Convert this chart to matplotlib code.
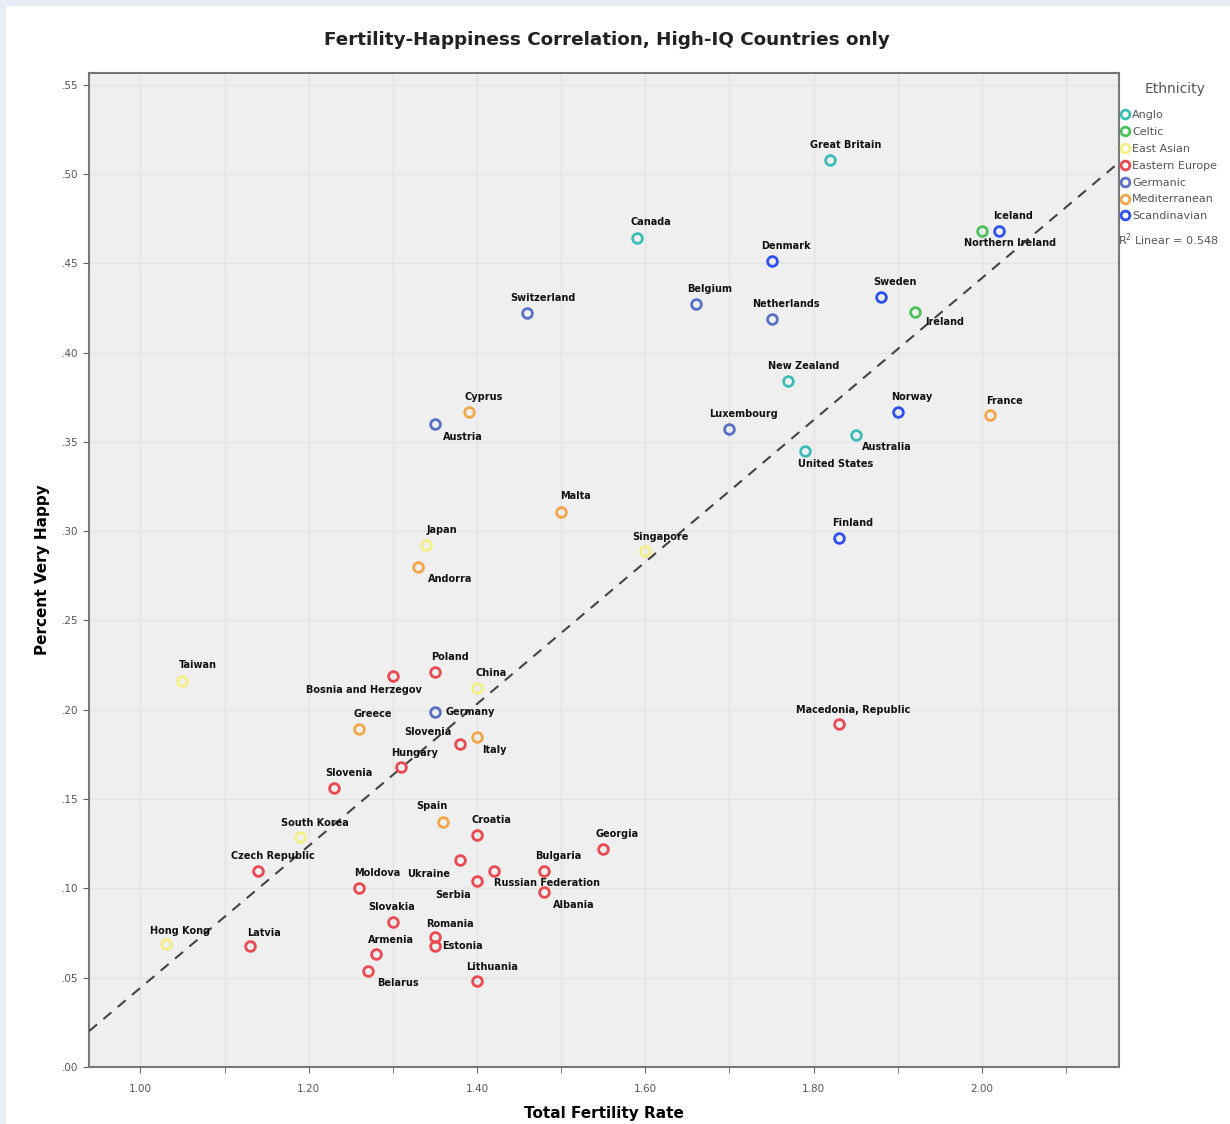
import numpy as np
import matplotlib
matplotlib.use('Agg')
import matplotlib.pyplot as plt
from matplotlib.patches import Rectangle
from matplotlib.ticker import MultipleLocator, FuncFormatter

# data
countries = ['Great Britain', 'Canada', 'New Zealand', 'Australia', 'United States',
             'Northern Ireland', 'Ireland',
             'Taiwan', 'China', 'Japan', 'Singapore', 'South Korea', 'Hong Kong',
             'Bosnia and Herzegov', 'Poland', 'Slovenia', 'Hungary', 'Slovenia', 'Croatia',
             'Georgia', 'Ukraine', 'Serbia', 'Bulgaria', 'Russian Federation', 'Albania',
             'Czech Republic', 'Moldova', 'Slovakia', 'Romania', 'Estonia', 'Armenia',
             'Belarus', 'Lithuania', 'Latvia', 'Macedonia, Republic',
             'Cyprus', 'Malta', 'Andorra', 'Greece', 'Italy', 'Spain', 'France',
             'Switzerland', 'Belgium', 'Netherlands', 'Austria', 'Luxembourg', 'Germany',
             'Denmark', 'Sweden', 'Iceland', 'Norway', 'Finland']
tfr = [1.82, 1.59, 1.77, 1.85, 1.79,
       2.00, 1.92,
       1.05, 1.40, 1.34, 1.60, 1.19, 1.03,
       1.30, 1.35, 1.38, 1.31, 1.23, 1.40,
       1.55, 1.38, 1.42, 1.48, 1.40, 1.48,
       1.14, 1.26, 1.30, 1.35, 1.35, 1.28,
       1.27, 1.40, 1.13, 1.83,
       1.39, 1.50, 1.33, 1.26, 1.40, 1.36, 2.01,
       1.46, 1.66, 1.75, 1.35, 1.70, 1.35,
       1.75, 1.88, 2.02, 1.90, 1.83]
very_happy = [0.508, 0.464, 0.384, 0.354, 0.345,
              0.468, 0.423,
              0.216, 0.212, 0.292, 0.289, 0.129, 0.069,
              0.219, 0.221, 0.181, 0.168, 0.156, 0.130,
              0.122, 0.116, 0.110, 0.110, 0.104, 0.098,
              0.110, 0.100, 0.081, 0.073, 0.068, 0.063,
              0.054, 0.048, 0.068, 0.192,
              0.367, 0.311, 0.280, 0.189, 0.185, 0.137, 0.365,
              0.422, 0.427, 0.419, 0.360, 0.357, 0.199,
              0.451, 0.431, 0.468, 0.367, 0.296]
ethnicity = ['Anglo'] * 5 + ['Celtic'] * 2 + ['East Asian'] * 6 + ['Eastern Europe'] * 22 + \
            ['Mediterranean'] * 7 + ['Germanic'] * 6 + ['Scandinavian'] * 5
groups = ['Anglo', 'Celtic', 'East Asian', 'Eastern Europe', 'Germanic', 'Mediterranean', 'Scandinavian']

colors = {'Anglo': '#3dbdb8', 'Celtic': '#4cc25a', 'East Asian': '#f3ef84',
          'Eastern Europe': '#ea4a52', 'Germanic': '#5a70c4', 'Mediterranean': '#f2a64a',
          'Scandinavian': '#2d50f2'}

# label offsets in pixels (right, up) from each point
offsets = [(15, 15), (14, 16), (15, 15), (31, -12), (30, -13),
           (28, -12), (30, -10),
           (15, 16), (14, 15), (15, 15), (15, 14), (15, 14), (14, 13),
           (-29, -14), (15, 15), (-32, 12), (13, 14), (15, 15), (14, 15),
           (14, 15), (-32, -14), (-41, -24), (14, 15), (70, -2), (29, -13),
           (15, 15), (18, 15), (-1, 15), (15, 13), (28, 0), (15, 14),
           (30, -12), (15, 14), (14, 13), (14, 14),
           (15, 15), (14, 16), (32, -12), (14, 15), (17, -13), (-11, 16), (14, 14),
           (15, 15), (14, 15), (14, 15), (28, -13), (14, 15), (35, 0),
           (14, 15), (14, 15), (14, 15), (14, 15), (14, 15)]

fig = plt.figure(figsize=(12.3, 11.24), dpi=100, facecolor='#e6edf5')
fig.patches.append(Rectangle((0.005, 0), 0.995, 0.995, transform=fig.transFigure,
                             facecolor='white', edgecolor='none', zorder=-5))
ax = fig.add_axes([0.0724, 0.0507, 0.8374, 0.8843])
ax.set_zorder(2)
ax.set_facecolor('#efefef')

tfr_arr = np.array(tfr)
vh_arr = np.array(very_happy)
eth_arr = np.array(ethnicity)
for g in groups:
    m = eth_arr == g
    ax.plot(tfr_arr[m], vh_arr[m], 'o', ms=7, mfc='none', mec=colors[g], mew=2, label=g, zorder=4)

for name, x, y, (dx, dy) in zip(countries, tfr, very_happy, offsets):
    ax.annotate(name, (x, y), xytext=(dx, dy), textcoords='offset pixels',
                ha='center', va='center', fontsize=7, fontweight='bold', color='#111111', zorder=5)

# linear fit line
slope, intercept = np.polyfit(tfr_arr, vh_arr, 1)
xl = np.array([0.939, 2.163])
ax.plot(xl, slope * xl + intercept, '--', color='#444444', lw=1.5, dashes=(5, 4), zorder=3)

ax.set_xlim(0.939, 2.163)
ax.set_ylim(0, 0.5565)
ax.xaxis.set_major_locator(MultipleLocator(0.2))
ax.xaxis.set_minor_locator(MultipleLocator(0.1))
ax.yaxis.set_major_locator(MultipleLocator(0.05))
ax.xaxis.set_major_formatter(FuncFormatter(lambda v, p: f'{v:.2f}'))
ax.yaxis.set_major_formatter(FuncFormatter(lambda v, p: f'{v:.2f}'.lstrip('0')))
ax.grid(True, which='both', color='#e4e4e4', lw=1, zorder=0)
ax.set_axisbelow(True)
ax.tick_params(axis='both', which='both', labelsize=7.5, labelcolor='#555555', color='#666666', length=4)
ax.tick_params(axis='x', pad=8)
for s in ax.spines.values():
    s.set_color('#777777')
    s.set_linewidth(1.5)

ax.set_xlabel('Total Fertility Rate', fontsize=11, fontweight='bold', labelpad=9)
ax.set_ylabel('Percent Very Happy', fontsize=11, fontweight='bold', labelpad=9)
fig.text(0.493, 0.9644, 'Fertility-Happiness Correlation, High-IQ Countries only',
         ha='center', va='center', fontsize=13.2, fontweight='bold', color='#222222')

fig.text(1175 / 1230, 1 - 89 / 1124, 'Ethnicity', ha='center', va='center', fontsize=10, color='#555555')
leg = ax.legend(loc='upper left', bbox_to_anchor=(1122 / 1230, 1 - 110 / 1124),
                bbox_transform=fig.transFigure, frameon=False,
                fontsize=8, handlelength=0.6, handletextpad=0.3, labelspacing=0.62,
                borderpad=0, borderaxespad=0, markerscale=0.9)
for t in leg.get_texts():
    t.set_color('#555555')
fig.text(0.909, 1 - 240 / 1124, 'R$^2$ Linear = 0.548', ha='left', va='center', fontsize=8, color='#555555')

fig.savefig('out.png', dpi=100, facecolor=fig.get_facecolor())
